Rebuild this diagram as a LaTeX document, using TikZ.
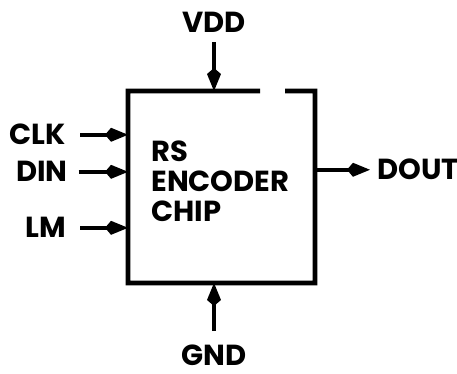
\documentclass[tikz,border=0pt]{standalone}
\usepackage{fontspec}
\setmainfont{Poppins}
\usepackage{tikz}
\usetikzlibrary{arrows.meta,positioning}

\begin{document}
\begin{tikzpicture}[
    x=0.02cm, y=-0.02cm,
    pin/.style={font=\fontsize{16.5}{18.5}\selectfont\bfseries, inner sep=0pt},
    sig/.style={line width=2.2pt, -{Kite[length=4.6mm,width=2.8mm,inset=1.2mm]}},
    outline/.style={line width=2.8pt}
]
    \useasboundingbox (0,0) rectangle (457,374);

    \node[minimum width=3.74cm, minimum height=3.84cm, inner sep=0pt, outer sep=0pt] (chip) at (221.5,187) {};
    \draw[outline] (260,91) -- (chip.north west) |- (chip.south east) |- (285,91);
    \node[pin, align=left, anchor=base west, font=\fontsize{16.5}{17.2pt}\selectfont\bfseries] (name) at (151,222) {RS\\ENCODER\\CHIP};

    \node[pin, anchor=base east] (clk) at (66,145) {CLK};
    \node[pin, anchor=base east] (din) at (68,182) {DIN};
    \node[pin, anchor=base east] (lm)  at (66,238) {LM};
    \node[pin, anchor=base] (vdd)  at (214,33)  {VDD};
    \node[pin, anchor=base] (gnd)  at (214,366) {GND};
    \node[pin, anchor=base west] (dout) at (377,180) {DOUT};

    \draw[sig] ([xshift=8pt]clk.east) -- (clk.east -| chip.west);
    \draw[sig] ([xshift=6pt]din.east) -- (din.east -| chip.west);
    \draw[sig] ([xshift=8pt]lm.east)  -- (lm.east -| chip.west);
    \draw[sig] ([yshift=-5pt]vdd.south) -- (vdd |- chip.north);
    \draw[sig] ([yshift=8pt]gnd.north) -- (gnd |- chip.south);
    \draw[sig] (chip.east |- dout.west) -- ([xshift=-4pt]dout.west);
\end{tikzpicture}
\end{document}
